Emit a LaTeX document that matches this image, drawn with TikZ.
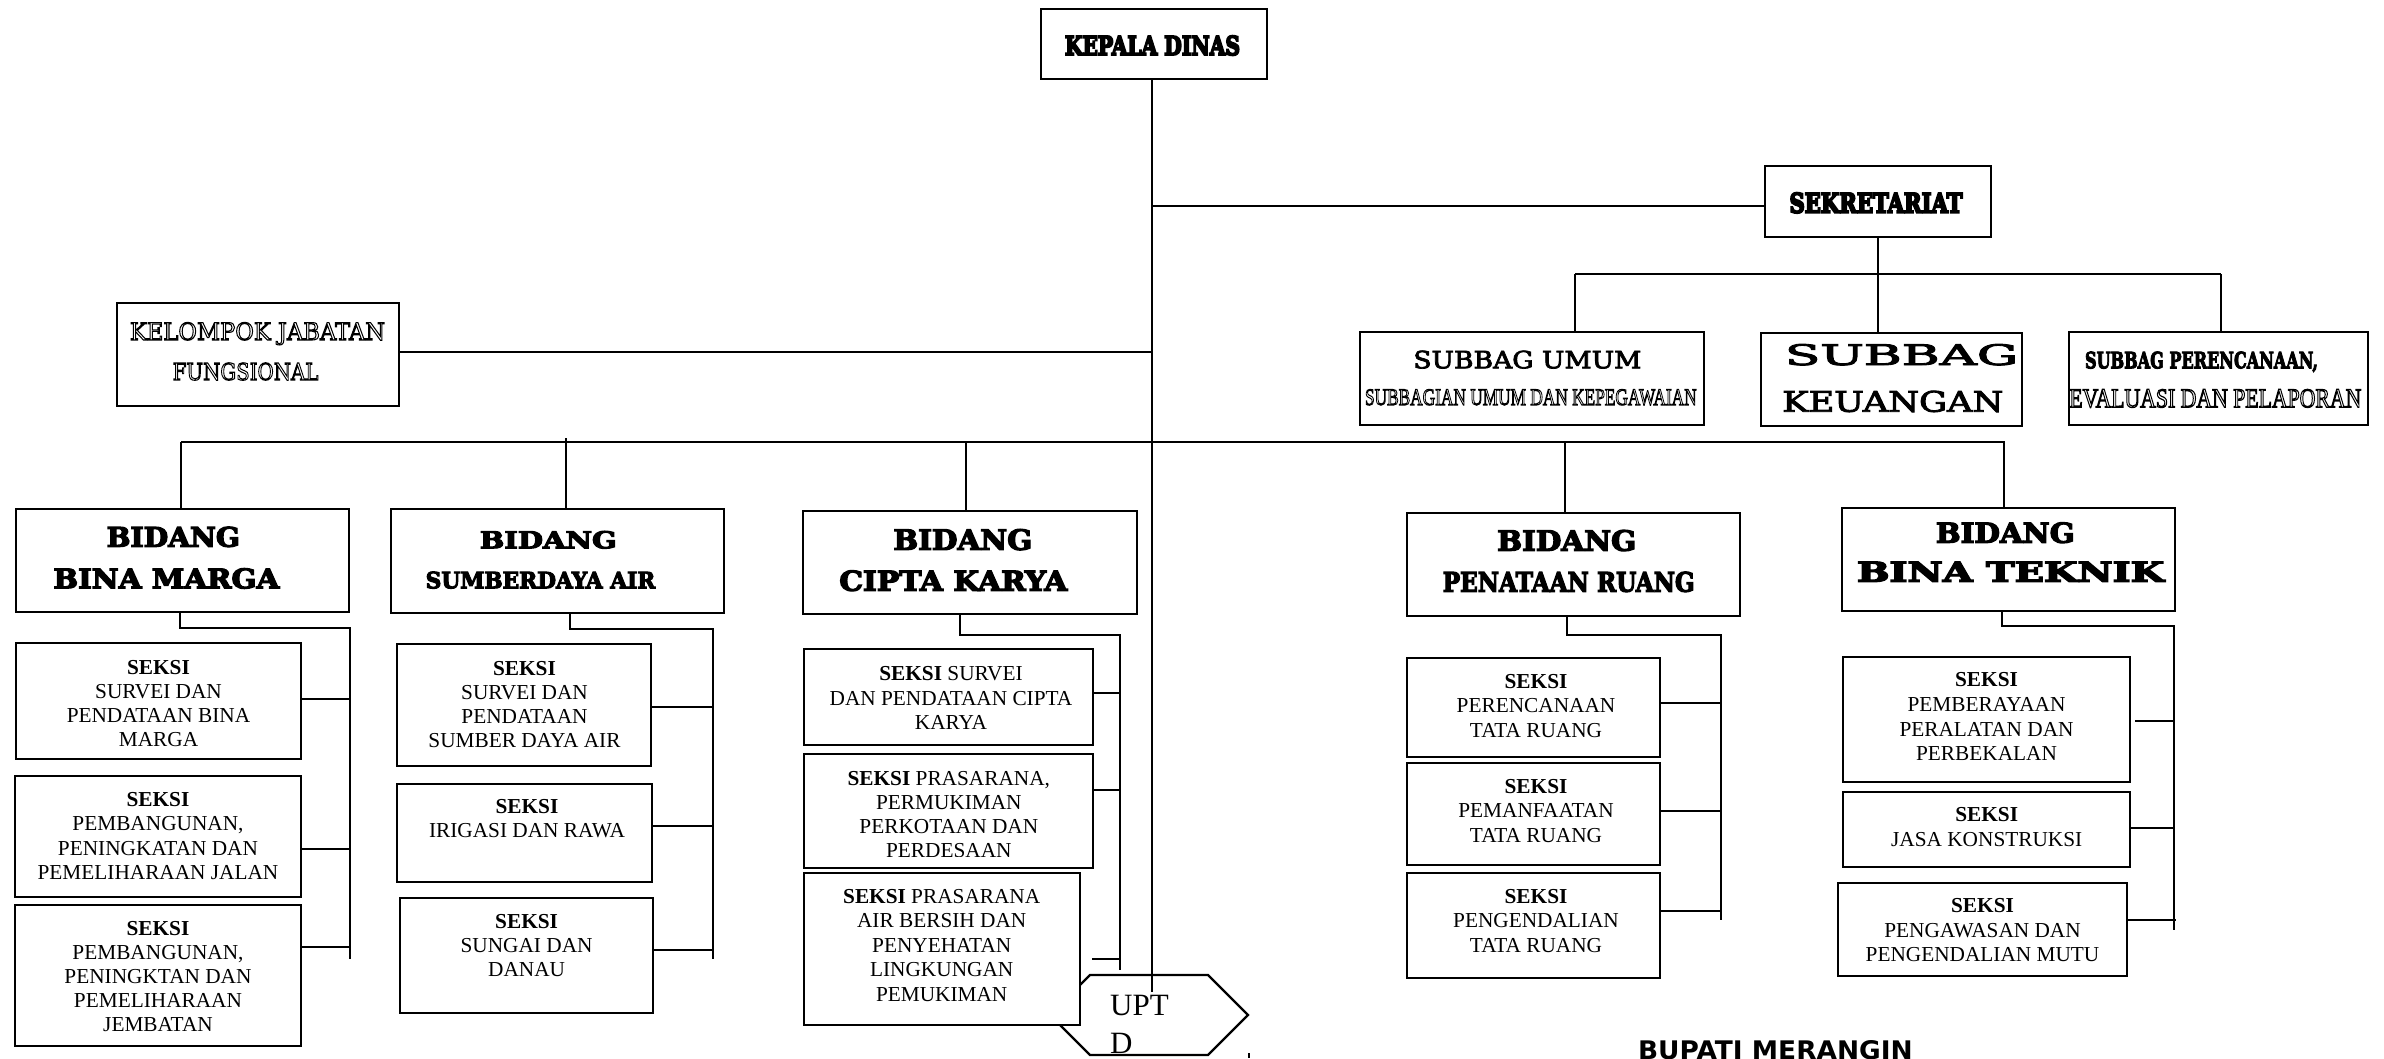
\documentclass[tikz,border=0pt]{standalone}
\usepackage{fontspec}
\usepackage{graphicx}
\setmainfont{Liberation Serif}
\newfontfamily\dvserif{DejaVu Serif}
\newfontfamily\dvsans{DejaVu Sans}
\newcommand\fitt[3]{\resizebox{#1pt}{#2pt}{#3}}
\newcommand\outl[1]{\special{pdf:literal direct 1 Tr 0.45 w}#1\special{pdf:literal direct 0 Tr}}
\newcommand\fb[2]{\special{pdf:literal direct 2 Tr #1 w}#2\special{pdf:literal direct 0 Tr}}
\newcommand\hdg[1]{\fb{0.45}{\dvserif\bfseries #1}}
\newcommand\hvy[1]{\fb{0.75}{\dvserif\bfseries #1}}
\newcommand\bkm[1]{\fb{0.3}{\dvserif #1}}
\newcommand\sk[2][24.2]{\fontsize{21.3}{#1}\selectfont\begin{tabular}[t]{@{}c@{}}#2\end{tabular}}
\newcommand\bx[5]{\node[box, minimum width={(#4-#2)*1pt}, minimum height={(#5-#3)*1pt}] (#1) at ({(#2+#4)/2},{(#3+#5)/2}) {};}
\tikzset{
  box/.style={draw, rectangle, line width=2.2pt, fill=white, inner sep=0pt, outer sep=0pt},
  conn/.style={draw, line width=2.2pt},
  lbl/.style={anchor=base west, inner sep=0pt, outer sep=0pt},
  sks/.style={anchor=base, inner sep=0pt, outer sep=0pt},
}
\begin{document}
\begin{tikzpicture}[x=1pt,y=-1pt]
\useasboundingbox (0,0) rectangle (2384,1058);
\fill[white] (0,0) rectangle (2384,1058);

% junction coordinates
\coordinate (m0) at (1152,79);
\coordinate (m1) at (1152,206);
\coordinate (m2) at (1152,352);
\coordinate (mE) at (1152,992);
\coordinate (s0) at (1878,274);
\coordinate (sL) at (1575,274);
\coordinate (sR) at (2221,274);
\coordinate (bL) at (181,442);
\coordinate (bR) at (2005,442);
\coordinate (bS) at (566,438);
\coordinate (bC) at (966,442);
\coordinate (bP) at (1565,442);
\coordinate (bT) at (2004,442);

% UPTD shape
\draw[conn] (1050,1015) -- (1090,975) -- (1208,975) -- (1248,1015) -- (1208,1055) -- (1090,1055) -- cycle;
\draw[line width=2pt] (1249,1053) -- (1249,1058);

% boxes
\bx{kepala}{1041}{9}{1267}{79}
\bx{sekr}{1765}{166}{1991}{237}
\bx{umum}{1360}{332}{1704}{425}
\bx{keu}{1761}{333}{2022}{426}
\bx{renc}{2069}{332}{2368}{425}
\bx{kjf}{117}{303}{399}{406}
\bx{bm}{16}{509}{349}{612}
\bx{sda}{391}{509}{724}{613}
\bx{ck}{803}{511}{1137}{614}
\bx{pr}{1407}{513}{1740}{616}
\bx{bt}{1842}{508}{2175}{611}
\bx{bm1}{16}{643}{301}{759}
\bx{bm2}{15}{776}{301}{897}
\bx{bm3}{15}{905}{301}{1046}
\bx{sda1}{397}{644}{651}{766}
\bx{sda2}{397}{784}{652}{882}
\bx{sda3}{400}{898}{653}{1013}
\bx{ck1}{804}{649}{1093}{745}
\bx{ck2}{804}{754}{1093}{868}
\bx{ck3}{804}{873}{1080}{1025}
\bx{pr1}{1407}{658}{1660}{757}
\bx{pr2}{1407}{763}{1660}{865}
\bx{pr3}{1407}{873}{1660}{978}
\bx{bt1}{1843}{657}{2130}{782}
\bx{bt2}{1843}{792}{2130}{867}
\bx{bt3}{1838}{883}{2127}{976}

% main connectors
\draw[conn] (kepala.south -| m0) -- (mE);
\draw[conn] (m1) -- (sekr.west |- m1);
\draw[conn] (kjf.east |- m2) -- (m2);
\draw[conn] (sekr.south -| s0) -- (keu.north -| s0);
\draw[conn] (sL) -- (sR);
\draw[conn] (sL) -- (umum.north -| sL);
\draw[conn] (sR) -- (renc.north -| sR);
\draw[conn] (bL) -- (bR);
\draw[conn] (bL) -- (bm.north -| bL);
\draw[conn] (bS) -- (sda.north -| bS);
\draw[conn] (bC) -- (ck.north -| bC);
\draw[conn] (bP) -- (pr.north -| bP);
\draw[conn] (bT) -- (bt.north -| bT);

% Bina Marga
\coordinate (bmA) at (180,628); \coordinate (bmB) at (350,628); \coordinate (bmC) at (350,959);
\draw[conn] (bm.south -| bmA) -- (bmA) -- (bmB) -- (bmC);
\coordinate (bmb1) at (350,699); \coordinate (bmb2) at (350,849); \coordinate (bmb3) at (350,947);
\draw[conn] (bm1.east |- bmb1) -- (bmb1);
\draw[conn] (bm2.east |- bmb2) -- (bmb2);
\draw[conn] (bm3.east |- bmb3) -- (bmb3);
% Sumberdaya Air
\coordinate (sdaA) at (570,629); \coordinate (sdaB) at (713,629); \coordinate (sdaC) at (713,959);
\draw[conn] (sda.south -| sdaA) -- (sdaA) -- (sdaB) -- (sdaC);
\coordinate (sdab1) at (713,707); \coordinate (sdab2) at (713,826); \coordinate (sdab3) at (713,950);
\draw[conn] (sda1.east |- sdab1) -- (sdab1);
\draw[conn] (sda2.east |- sdab2) -- (sdab2);
\draw[conn] (sda3.east |- sdab3) -- (sdab3);
% Cipta Karya
\coordinate (ckA) at (960,635); \coordinate (ckB) at (1120,635); \coordinate (ckC) at (1120,970);
\draw[conn] (ck.south -| ckA) -- (ckA) -- (ckB) -- (ckC);
\coordinate (ckb1) at (1120,693); \coordinate (ckb2) at (1120,790); \coordinate (ckb3) at (1120,959);
\coordinate (ck3s) at (1092,959);
\draw[conn] (ck1.east |- ckb1) -- (ckb1);
\draw[conn] (ck2.east |- ckb2) -- (ckb2);
\draw[conn] (ck3s) -- (ckb3);
% Penataan Ruang
\coordinate (prA) at (1567,635); \coordinate (prB) at (1721,635); \coordinate (prC) at (1721,920);
\draw[conn] (pr.south -| prA) -- (prA) -- (prB) -- (prC);
\coordinate (prb1) at (1721,703); \coordinate (prb2) at (1721,811); \coordinate (prb3) at (1721,911);
\draw[conn] (pr1.east |- prb1) -- (prb1);
\draw[conn] (pr2.east |- prb2) -- (prb2);
\draw[conn] (pr3.east |- prb3) -- (prb3);
% Bina Teknik
\coordinate (btA) at (2002,626); \coordinate (btB) at (2174,626); \coordinate (btC) at (2174,930);
\draw[conn] (bt.south -| btA) -- (btA) -- (btB) -- (btC);
\coordinate (btb1) at (2174,721); \coordinate (btb2) at (2174,828); \coordinate (btb3) at (2176,920);
\coordinate (bt1s) at (2135,721);
\draw[conn] (bt1s) -- (btb1);
\draw[conn] (bt2.east |- btb2) -- (btb2);
\draw[conn] (bt3.east |- btb3) -- (btb3);

% outlined labels
\node[lbl] (t-umum2) at (1365,405) {\fitt{331.7}{15.7}{\outl{SUBBAGIAN UMUM DAN KEPEGAWAIAN}}};
\node[lbl] (t-renc2) at (2069.3,407.3) {\fitt{292}{18}{\outl{EVALUASI DAN PELAPORAN}}};
\node[lbl] (t-kjf1) at (130,340) {\fitt{255}{17.7}{\outl{\dvserif KELOMPOK JABATAN}}};
\node[lbl] (t-kjf2) at (172.7,380) {\fitt{145.7}{17.3}{\outl{\dvserif FUNGSIONAL}}};

% heading labels
\node[lbl] (t-kepala) at (1065,55) {\fitt{175}{19.3}{\hvy{KEPALA DINAS}}};
\node[lbl] (t-sekr) at (1789.5,212.7) {\fitt{173}{20}{\hvy{SEKRETARIAT}}};
\node[lbl] (t-umum1) at (1413.3,368.3) {\fitt{228}{17.7}{\bkm{SUBBAG UMUM}}};
\node[lbl] (t-keu1) at (1785,365) {\fitt{233}{21}{\bkm{SUBBAG}}};
\node[lbl] (t-keu2) at (1782.3,411.7) {\fitt{221}{21}{\bkm{KEUANGAN}}};
\node[lbl] (t-renc1) at (2085,368.3) {\fitt{233}{16.7}{\hdg{SUBBAG PERENCANAAN,}}};
\node[lbl] (t-bm1) at (106.7,546.7) {\fitt{133.3}{20}{\hdg{BIDANG}}};
\node[lbl] (t-bm2) at (53.3,588.3) {\fitt{226}{20}{\hdg{BINA MARGA}}};
\node[lbl] (t-sda1) at (479.8,548.3) {\fitt{137}{17.3}{\hdg{BIDANG}}};
\node[lbl] (t-sda2) at (425.7,588.3) {\fitt{229.6}{16.7}{\hdg{SUMBERDAYA AIR}}};
\node[lbl] (t-ck1) at (893.3,549.8) {\fitt{139}{20.7}{\hdg{BIDANG}}};
\node[lbl] (t-ck2) at (839.3,590.7) {\fitt{228}{20.3}{\hdg{CIPTA KARYA}}};
\node[lbl] (t-pr1) at (1497.2,550.7) {\fitt{139}{20.7}{\hdg{BIDANG}}};
\node[lbl] (t-pr2) at (1442.7,591.7) {\fitt{252}{20}{\hdg{PENATAAN RUANG}}};
\node[lbl] (t-bt1) at (1935.8,542.7) {\fitt{139}{20.3}{\hdg{BIDANG}}};
\node[lbl] (t-bt2) at (1857,581.7) {\fitt{307}{20}{\hdg{BINA TEKNIK}}};
\node[lbl] (bupati) at (1638,1059) {\fitt{274.7}{19}{\dvsans\bfseries BUPATI MERANGIN}};

% seksi texts
\node[sks] (s-bm1) at (158.5,674) {\sk{\textbf{SEKSI}\\SURVEI DAN\\PENDATAAN BINA\\MARGA}};
\node[sks] (s-bm2) at (158,806.7) {\sk{\textbf{SEKSI}\\PEMBANGUNAN,\\PENINGKATAN DAN\\PEMELIHARAAN JALAN}};
\node[sks] (s-bm3) at (158,935) {\sk{\textbf{SEKSI}\\PEMBANGUNAN,\\PENINGKTAN DAN\\PEMELIHARAAN\\JEMBATAN}};
\node[sks] (s-sda1) at (524.5,675) {\sk{\textbf{SEKSI}\\SURVEI DAN\\PENDATAAN\\SUMBER DAYA AIR}};
\node[sks] (s-sda2) at (527,813.3) {\sk{\textbf{SEKSI}\\IRIGASI DAN RAWA}};
\node[sks] (s-sda3) at (526.6,928.3) {\sk{\textbf{SEKSI}\\SUNGAI DAN\\DANAU}};
\node[sks] (s-ck1) at (951,680.2) {\sk[24.8]{\textbf{SEKSI} SURVEI\\DAN PENDATAAN CIPTA\\KARYA}};
\begin{scope}
\clip (804,754) rectangle (1093,856.7);
\node[sks] (s-ck2) at (948.8,785.3) {\sk[24.1]{\textbf{SEKSI} PRASARANA,\\PERMUKIMAN\\PERKOTAAN DAN\\PERDESAAN}};
\end{scope}
\node[sks] (s-ck3) at (941.7,903) {\sk[24.5]{\textbf{SEKSI} PRASARANA\\AIR BERSIH DAN\\PENYEHATAN\\LINGKUNGAN\\PEMUKIMAN}};
\node[sks] (s-pr1) at (1536,688.3) {\sk[24.5]{\textbf{SEKSI}\\PERENCANAAN\\TATA RUANG}};
\node[sks] (s-pr2) at (1536,793.3) {\sk[24.5]{\textbf{SEKSI}\\PEMANFAATAN\\TATA RUANG}};
\node[sks] (s-pr3) at (1536,903.3) {\sk[24.5]{\textbf{SEKSI}\\PENGENDALIAN\\TATA RUANG}};
\node[sks] (s-bt1) at (1986.5,686.7) {\sk[24.7]{\textbf{SEKSI}\\PEMBERAYAAN\\PERALATAN DAN\\PERBEKALAN}};
\node[sks] (s-bt2) at (1986.7,821.7) {\sk[24.7]{\textbf{SEKSI}\\JASA KONSTRUKSI}};
\node[sks] (s-bt3) at (1982.5,912.7) {\sk[24.5]{\textbf{SEKSI}\\PENGAWASAN DAN\\PENGENDALIAN MUTU}};

% UPTD label
\node[anchor=base west, inner sep=0pt, font=\fontsize{31}{38}\selectfont] (upt) at (1110,1015) {UPT};
\node[anchor=base west, inner sep=0pt, font=\fontsize{31}{38}\selectfont] (uptd) at (1110,1053) {D};
\end{tikzpicture}
\end{document}
